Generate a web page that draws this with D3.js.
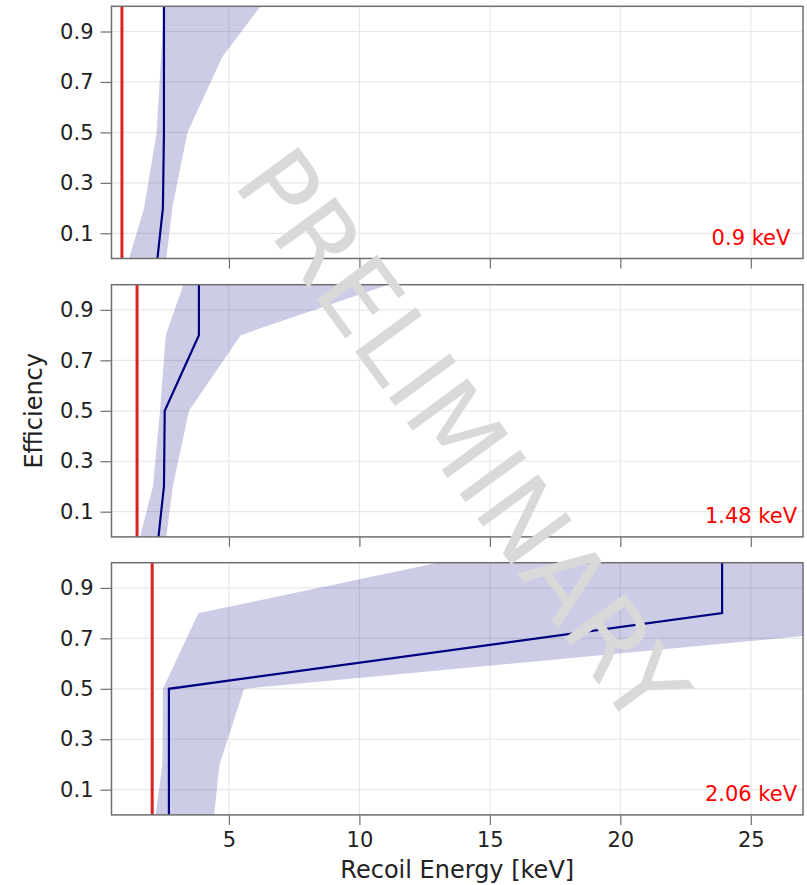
<!DOCTYPE html>
<html>
<head>
<meta charset="utf-8">
<script src="https://cdn.jsdelivr.net/npm/d3@7"></script>
<style>
  html, body { margin: 0; padding: 0; background: #fff; }
  svg { display: block; font-family: "DejaVu Sans", sans-serif; }
</style>
</head>
<body>
<svg id="chart" width="807" height="885"></svg>
<script>
// Efficiency levels at which the recoil energy was evaluated
const efficiencyLevels = [0.0, 0.2, 0.5, 0.8, 1.0];

// Threshold energies (keV), one per panel
const thresholds = [0.9, 1.48, 2.06];
const thresholdLabels = ["0.9 keV", "1.48 keV", "2.06 keV"];

// Median recoil energy (keV) at each efficiency level
const median09 = [2.26, 2.47, 2.51, 2.51, 2.51];
const median148 = [2.30, 2.51, 2.54, 3.85, 3.85];
const median206 = [2.70, 2.70, 2.70, 23.9, 23.9];

// Band edges (keV): lower / upper recoil energy at each efficiency level
const lower09 = [1.17, 1.75, 2.23, 2.40, 2.51];
const upper09 = [2.60, 2.83, 3.41, 4.75, 6.21];
const lower148 = [1.59, 2.09, 2.36, 2.58, 3.25];
const upper148 = [2.60, 2.85, 3.47, 5.45, 11.1];
const lower206 = [2.19, 2.45, 2.47, 3.83, 13.0];
const upper206 = [4.43, 4.64, 5.58, 36.3, 42.0];

const xTicks = [5, 10, 15, 20, 25];
const yTicks = [0.1, 0.3, 0.5, 0.7, 0.9];

const panels = [
  { thr: thresholds[0], label: thresholdLabels[0], med: median09, lo: lower09, hi: upper09 },
  { thr: thresholds[1], label: thresholdLabels[1], med: median148, lo: lower148, hi: upper148 },
  { thr: thresholds[2], label: thresholdLabels[2], med: median206, lo: lower206, hi: upper206 }
];

const svg = d3.select("#chart");
const left = 111.5, right = 803;
const panelTops = [6.3, 284.7, 562.7];
const panelH = 252.2;

const x = d3.scaleLinear().domain([0.5, 27]).range([left, right]);

const gridColor = "#e8e8e8";
const spineColor = "#6e6e6e";

panels.forEach((p, i) => {
  const top = panelTops[i], bottom = top + panelH;
  const y = d3.scaleLinear().domain([0, 1]).range([bottom, top]);
  const g = svg.append("g");

  const clipId = "clip" + i;
  svg.append("defs").append("clipPath").attr("id", clipId)
    .append("rect").attr("x", left).attr("y", top)
    .attr("width", right - left).attr("height", panelH);

  // grid
  g.append("g").selectAll("line").data(xTicks).join("line")
    .attr("x1", d => x(d)).attr("x2", d => x(d))
    .attr("y1", top).attr("y2", bottom)
    .attr("stroke", gridColor).attr("stroke-width", 1.2);
  g.append("g").selectAll("line").data(yTicks).join("line")
    .attr("x1", left).attr("x2", right)
    .attr("y1", d => y(d)).attr("y2", d => y(d))
    .attr("stroke", gridColor).attr("stroke-width", 1.2);

  const rows = efficiencyLevels.map((e, k) => ({ e, med: p.med[k], lo: p.lo[k], hi: p.hi[k] }));
  const plot = g.append("g").attr("clip-path", `url(#${clipId})`);

  // uncertainty band
  const area = d3.area()
    .y(d => y(d.e))
    .x0(d => x(d.lo))
    .x1(d => x(d.hi));
  plot.append("path").datum(rows).attr("d", area)
    .attr("fill", "#000080").attr("fill-opacity", 0.2);

  // threshold marker
  plot.append("line")
    .attr("x1", x(p.thr)).attr("x2", x(p.thr))
    .attr("y1", top).attr("y2", bottom)
    .attr("stroke", "#dd2222").attr("stroke-width", 3);

  // median curve
  const line = d3.line().x(d => x(d.med)).y(d => y(d.e));
  plot.append("path").datum(rows).attr("d", line)
    .attr("fill", "none").attr("stroke", "#000080").attr("stroke-width", 2.2);

  // threshold label
  g.append("text")
    .attr("x", 751).attr("y", bottom - 14)
    .attr("text-anchor", "middle")
    .attr("fill", "#ff0000").attr("font-size", 21)
    .text(p.label);

  // y axis
  const yAxis = d3.axisLeft(y).tickValues(yTicks).tickSize(11).tickPadding(7)
    .tickFormat(d3.format(".1f"));
  const ya = g.append("g").attr("transform", `translate(${left},0)`).call(yAxis);
  ya.select(".domain").remove();
  ya.selectAll(".tick line").attr("stroke", spineColor).attr("stroke-width", 1.2);
  ya.selectAll(".tick text").attr("font-size", 21).attr("fill", "#222")
    .attr("font-family", "DejaVu Sans");

  // x axis
  const xAxis = d3.axisBottom(x).tickValues(xTicks).tickSize(10).tickPadding(7);
  if (i < panels.length - 1) xAxis.tickFormat("");
  const xa = g.append("g").attr("transform", `translate(0,${bottom})`).call(xAxis);
  xa.select(".domain").remove();
  xa.selectAll(".tick line").attr("stroke", spineColor).attr("stroke-width", 1.2);
  xa.selectAll(".tick text").attr("font-size", 21).attr("fill", "#222")
    .attr("font-family", "DejaVu Sans");

  // frame
  g.append("rect").attr("x", left).attr("y", top)
    .attr("width", right - left).attr("height", panelH)
    .attr("fill", "none").attr("stroke", spineColor).attr("stroke-width", 1.5);
});

// axis titles
svg.append("text")
  .attr("x", (left + right) / 2).attr("y", 878)
  .attr("text-anchor", "middle").attr("font-size", 24).attr("fill", "#222")
  .text("Recoil Energy [keV]");
svg.append("text")
  .attr("transform", `translate(42,${panelTops[1] + panelH / 2}) rotate(-90)`)
  .attr("text-anchor", "middle").attr("font-size", 24).attr("fill", "#222")
  .text("Efficiency");

// watermark
svg.append("text")
  .attr("transform", "translate(433,458) rotate(53.8)")
  .attr("text-anchor", "middle").attr("font-size", 103)
  .attr("fill", "#d9d9d9")
  .text("PRELIMINARY");
</script>
</body>
</html>
